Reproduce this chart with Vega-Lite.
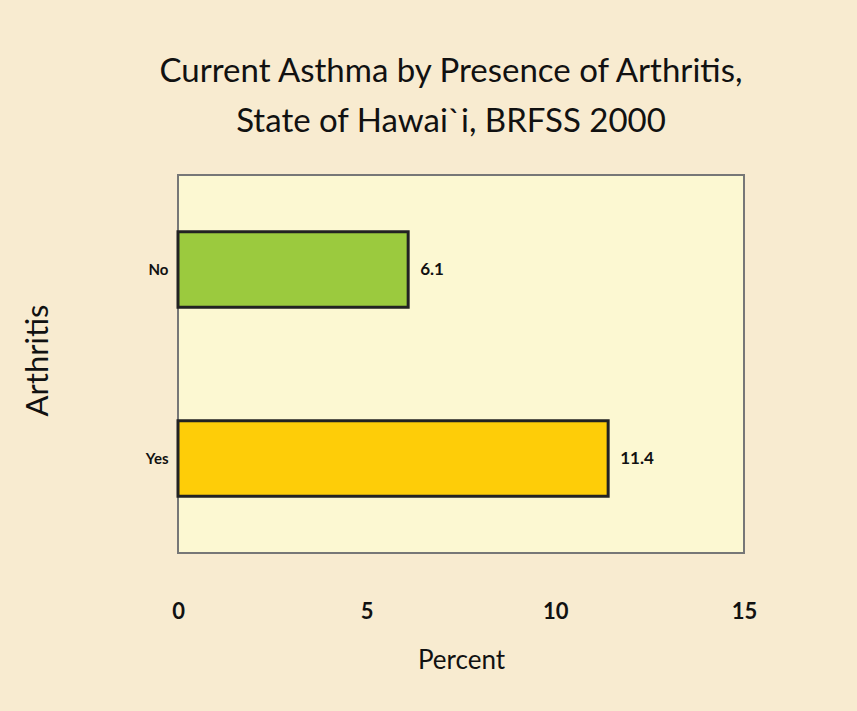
{
  "$schema": "https://vega.github.io/schema/vega-lite/v6.json",
  "autosize": {"type": "none"},
  "width": 566,
  "height": 378,
  "padding": {"left": 178, "top": 175, "right": 113, "bottom": 158},
  "background": "#f8ebd0",
  "title": {
    "text": ["Current Asthma by Presence of Arthritis,", "State of Hawai`i, BRFSS 2000"],
    "anchor": "middle",
    "fontSize": 33,
    "font": "Lato",
    "fontWeight": "normal",
    "color": "#111111",
    "lineHeight": 50,
    "offset": 36,
    "dx": -10
  },
  "data": {
    "values": [
      {"arthritis": "No", "percent": 6.1},
      {"arthritis": "Yes", "percent": 11.4}
    ]
  },
  "encoding": {
    "y": {
      "field": "arthritis",
      "type": "nominal",
      "sort": ["No", "Yes"],
      "scale": {"paddingInner": 0.6, "paddingOuter": 0.3},
      "axis": {
        "title": "Arthritis",
        "titleFontSize": 31,
        "titleFont": "Lato",
        "titleFontWeight": "normal",
        "titleColor": "#111111",
        "titleX": -140,
        "titleY": 185,
        "titleAlign": "center",
        "titleBaseline": "middle",
        "labelFontSize": 15,
        "labelFont": "Lato",
        "labelFontWeight": "bold",
        "labelColor": "#111111",
        "labelPadding": 10,
        "ticks": false,
        "domain": false
      }
    },
    "x": {
      "field": "percent",
      "type": "quantitative",
      "scale": {"domain": [0, 15], "nice": false},
      "axis": {
        "title": "Percent",
        "values": [0, 5, 10, 15],
        "titleFontSize": 26,
        "titleFont": "Lato",
        "titleFontWeight": "normal",
        "titleColor": "#111111",
        "titleX": 283,
        "titleY": 107,
        "titleBaseline": "middle",
        "labelFontSize": 22,
        "labelFont": "Lato",
        "labelFontWeight": "bold",
        "labelColor": "#111111",
        "labelPadding": 58,
        "labelBaseline": "middle",
        "labelFlush": false,
        "ticks": false,
        "domain": false,
        "grid": false
      }
    }
  },
  "layer": [
    {
      "mark": {"type": "bar", "stroke": "#222222", "strokeWidth": 3},
      "encoding": {
        "color": {
          "field": "arthritis",
          "type": "nominal",
          "scale": {"domain": ["No", "Yes"], "range": ["#9bca3e", "#fecd08"]},
          "legend": null
        }
      }
    },
    {
      "mark": {"type": "text", "align": "left", "baseline": "middle", "dx": 12, "fontSize": 17, "font": "Lato", "fontWeight": "bold", "color": "#111111"},
      "encoding": {
        "text": {"field": "percent", "type": "quantitative", "format": ".1f"}
      }
    }
  ],
  "config": {
    "view": {"fill": "#fcf8d2", "stroke": "#777777", "strokeWidth": 2}
  }
}
